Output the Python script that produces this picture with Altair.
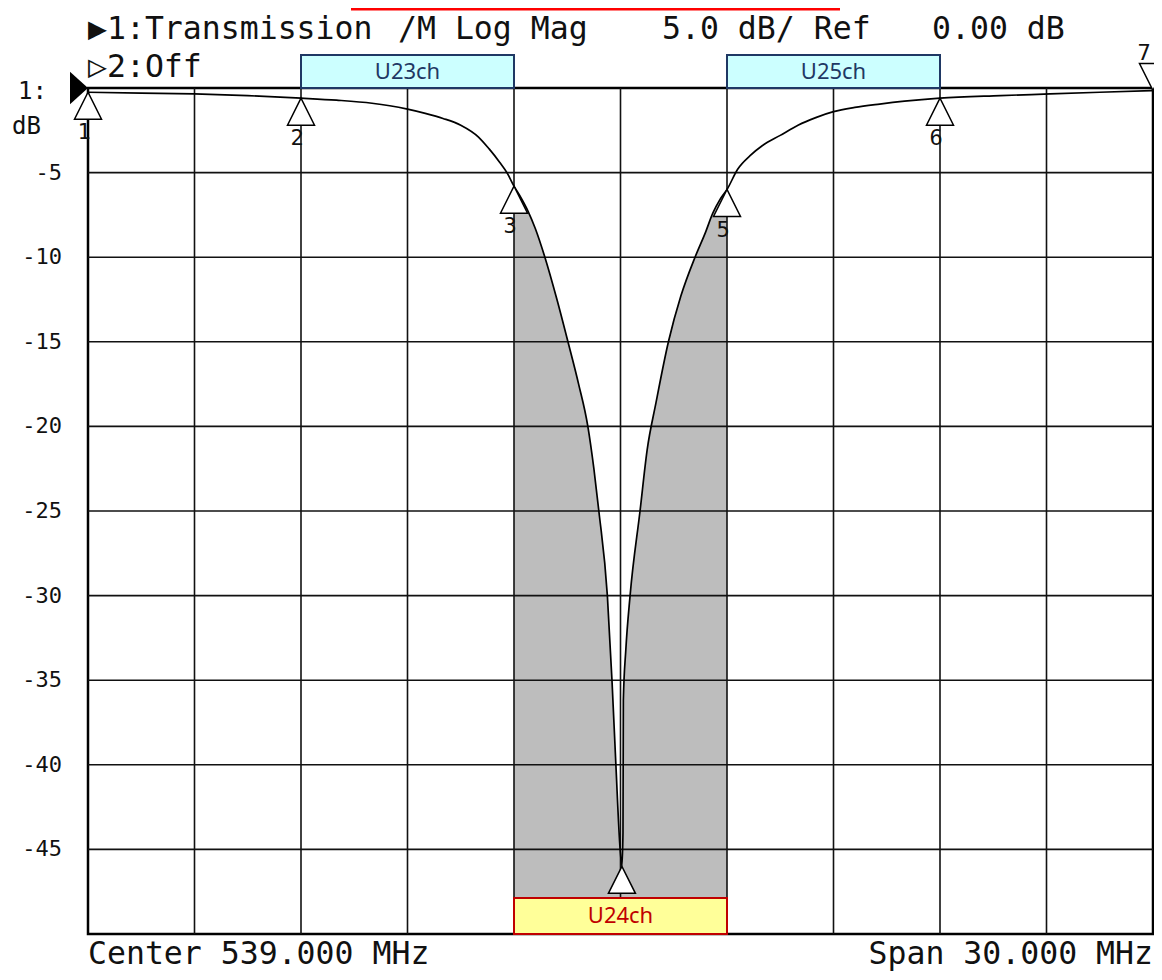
import altair as alt
import pandas as pd

# ---- trace data ----
freq_mhz = [524.0, 525.5, 527.0, 528.5, 530.0, 531.0, 532.0, 532.5, 533.0, 533.5,
            534.0, 534.5, 535.0, 535.3, 535.6, 535.8, 536.0, 536.2, 536.4, 536.6,
            536.87, 537.21, 537.52, 537.82, 538.08, 538.25, 538.39, 538.63, 538.76, 538.87,
            538.99, 539.04, 539.07, 539.08, 539.15, 539.27, 539.55, 539.75, 540.0, 540.35,
            540.7, 541.1, 541.4, 541.6, 541.8, 542.0, 542.3, 542.65, 543.0, 543.5,
            544.0, 544.5, 545.0, 545.6, 546.3, 547.0, 548.0, 549.7, 551.1, 552.5, 554.0]
trans_db = [-0.25, -0.3, -0.35, -0.45, -0.6, -0.72, -0.9, -1.05, -1.25, -1.5,
            -1.8, -2.2, -2.9, -3.6, -4.4, -5.0, -5.8, -6.5, -7.3, -8.3,
            -10.0, -12.5, -15.0, -17.5, -20.0, -22.5, -25.0, -30.0, -35.0, -40.0,
            -45.0, -46.0, -44.0, -36.2, -33.2, -30.0, -25.0, -21.4, -18.6, -15.0,
            -12.3, -10.0, -8.5, -7.4, -6.6, -6.0, -4.8, -4.0, -3.4, -2.8,
            -2.2, -1.75, -1.4, -1.15, -0.95, -0.78, -0.6, -0.45, -0.35, -0.25, -0.15]

grid_x = [527, 530, 533, 536, 539, 542, 545, 548, 551]
grid_y = [-5, -10, -15, -20, -25, -30, -35, -40, -45]
ytick_labels = ["-5", "-10", "-15", "-20", "-25", "-30", "-35", "-40", "-45"]

marker_ids = ["1", "2", "3", "4", "5", "6"]
marker_freq = [524.0, 530.0, 536.0, 539.04, 542.0, 548.0]
marker_db = [-0.25, -0.6, -5.8, -46.0, -6.0, -0.6]
marker7_freq = [554.0]
marker7_db = [-0.15]

band_names = ["U23ch", "U24ch", "U25ch"]
band_start = [530, 536, 542]
band_end = [536, 542, 548]
band_lo = [0.0, -50.0, 0.0]
band_hi = [1.95, -47.87, 1.95]
band_fill = ["#ccffff", "#ffff99", "#ccffff"]
band_stroke = ["#1f3864", "#c00000", "#1f3864"]

MONO = "DejaVu Sans Mono"

trace = pd.DataFrame({"f": freq_mhz, "db": trans_db, "i": list(range(len(freq_mhz)))})
xs = alt.Scale(domain=[524, 554], nice=False, zero=False)
ys = alt.Scale(domain=[-50, 0], nice=False, zero=False)
X = lambda fld: alt.X(fld, type="quantitative", scale=xs, axis=None)
Y = lambda fld: alt.Y(fld, type="quantitative", scale=ys, axis=None)

area = alt.Chart(trace).transform_filter(
    "datum.f >= 536 && datum.f <= 542"
).transform_calculate(base="-50").mark_area(
    color="#bdbdbd", opacity=1, interpolate="monotone"
).encode(x=X("f"), y=Y("db"), y2="base:Q")

gx = alt.Chart(pd.DataFrame({"gx": grid_x})).mark_rule(color="#111", strokeWidth=1.6).encode(x=X("gx"))
gy = alt.Chart(pd.DataFrame({"gy": grid_y})).mark_rule(color="#111", strokeWidth=1.6).encode(y=Y("gy"))

ylab = alt.Chart(pd.DataFrame({"gy": grid_y, "t": ytick_labels})).mark_text(
    font=MONO, fontSize=22, align="right", baseline="middle", color="#111"
).encode(x=alt.value(-26), y=Y("gy"), text="t:N")

line = alt.Chart(trace).mark_line(
    color="black", strokeWidth=1.7, interpolate="monotone"
).encode(x=X("f"), y=Y("db"), order="i:Q")

mk = pd.DataFrame({"f": marker_freq, "db": marker_db, "id": marker_ids})
tri_up = alt.Chart(mk).mark_point(
    shape="M0,0L-0.5,1L0.5,1Z", size=2916, filled=True, fill="white",
    stroke="black", strokeWidth=1.5, opacity=1
).encode(x=X("f"), y=Y("db"))
mk_lab = alt.Chart(mk).transform_filter("datum.id != '4'").mark_text(
    font=MONO, fontSize=22, align="center", baseline="middle", dx=-4, dy=40, color="#111"
).encode(x=X("f"), y=Y("db"), text="id:N")

mk7 = pd.DataFrame({"f": marker7_freq, "db": marker7_db, "id": ["7"]})
tri_dn = alt.Chart(mk7).mark_point(
    shape="M0,0L-0.5,-1L0.5,-1Z", size=2916, filled=True, fill="white",
    stroke="black", strokeWidth=1.5, opacity=1
).encode(x=X("f"), y=Y("db"))
mk7_lab = alt.Chart(mk7).mark_text(
    font=MONO, fontSize=22, align="center", baseline="middle", dx=-9, dy=-38, color="#111"
).encode(x=X("f"), y=Y("db"), text="id:N")

bands = pd.DataFrame({"s": band_start, "e": band_end, "lo": band_lo, "hi": band_hi,
                      "name": band_names, "fill": band_fill, "stroke": band_stroke})
band_rect = alt.Chart(bands).mark_rect(strokeWidth=2).encode(
    x=X("s"), x2="e:Q", y=Y("lo"), y2="hi:Q",
    fill=alt.Color("fill:N", scale=None), stroke=alt.Color("stroke:N", scale=None)
)
band_txt = alt.Chart(bands).transform_calculate(
    mx="(datum.s + datum.e) / 2", my="(datum.lo + datum.hi) / 2"
).mark_text(font="Noto Sans", fontSize=22, align="center", baseline="middle").encode(
    x=X("mx"), y=Y("my"), text="name:N", color=alt.Color("stroke:N", scale=None)
)

one = pd.DataFrame({"a": [0]})


def txt(s, x, y, size=31.5, align="left", baseline="alphabetic", font=MONO, color="#111"):
    return alt.Chart(one).mark_text(
        font=font, fontSize=size, align=align, baseline=baseline, color=color
    ).encode(x=alt.value(x), y=alt.value(y), text=alt.value(s))


ref_arrow = alt.Chart(one).mark_point(
    shape="M-1,-0.9L0,0L-1,0.9Z", size=1296, filled=True, color="black", opacity=1
).encode(x=alt.value(0), y=alt.value(0))

red_bar = alt.Chart(one).mark_rule(color="#ff0000", strokeWidth=3).encode(
    x=alt.value(263), x2=alt.value(752), y=alt.value(-79)
)

texts = [
    txt("\u25b61:Transmission", 0, -49),
    txt("/M Log Mag", 310, -49),
    txt("5.0 dB/ Ref", 574, -49),
    txt("0.00 dB", 844, -49),
    txt("\u25b72:Off", 0, -11),
    txt("1:", -41, 4, size=24, align="right", baseline="middle"),
    txt("dB", -76, 39, size=24, baseline="middle"),
    txt("Center 539.000 MHz", 0, 883, baseline="bottom"),
    txt("Span 30.000 MHz", 1065, 883, align="right", baseline="bottom"),
]

chart = alt.layer(
    area, gx, gy, ylab, line, tri_up, tri_dn, mk_lab, mk7_lab, band_rect, band_txt,
    ref_arrow, red_bar, *texts
).properties(
    width=1065, height=846,
    padding={"left": 80, "top": 80, "right": 1, "bottom": 38},
    autosize=alt.AutoSizeParams(type="none"),
    background="white",
).configure_view(stroke="black", strokeWidth=2.5)

chart.save("out.html", embed_options={"renderer": "svg", "actions": False})
